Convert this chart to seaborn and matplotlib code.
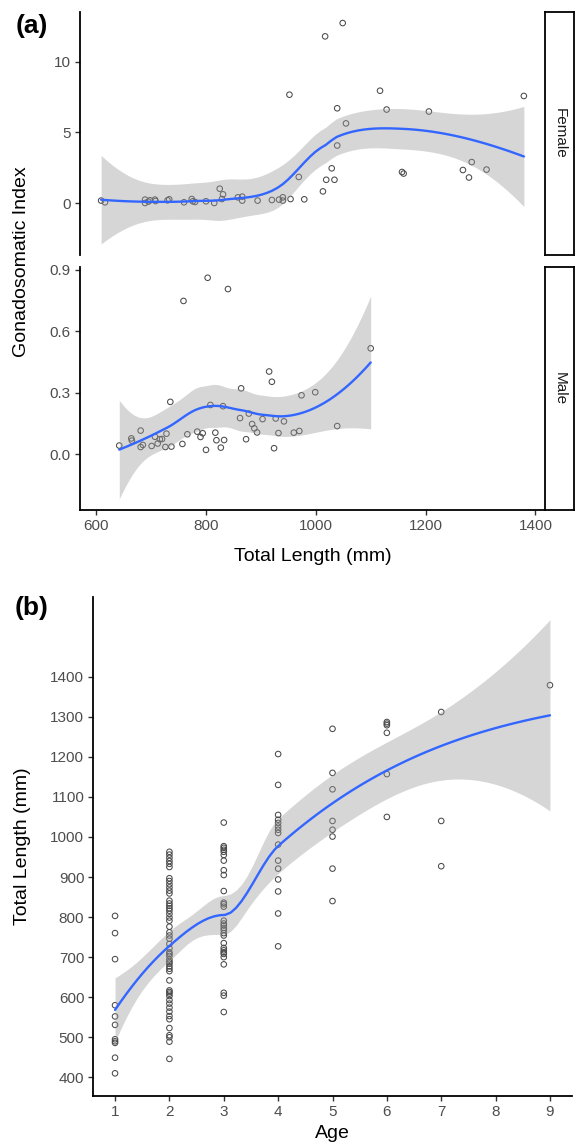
import numpy as np
import pandas as pd
import matplotlib
matplotlib.use("Agg")
import matplotlib.pyplot as plt
import seaborn as sns

# ---------------- data ----------------
female_tl = [609, 616, 689, 689, 695, 698, 707, 708, 730, 733, 760, 774, 776, 780, 800,
             815, 825, 829, 831, 858, 866, 866, 894, 920, 933, 940, 940, 952, 954, 969,
             979, 1013, 1017, 1019, 1029, 1034, 1039, 1039, 1049, 1055, 1117, 1129, 1157,
             1160, 1206, 1268, 1279, 1284, 1311, 1379]
female_gsi = [0.19, 0.07, 0.26, 0.02, 0.12, 0.21, 0.26, 0.16, 0.21, 0.28, 0.07, 0.30, 0.14,
              0.09, 0.14, 0.02, 1.03, 0.30, 0.63, 0.42, 0.47, 0.19, 0.19, 0.23, 0.26, 0.42,
              0.19, 7.67, 0.30, 1.86, 0.28, 0.84, 11.79, 1.66, 2.47, 1.66, 6.71, 4.08, 12.73,
              5.64, 7.95, 6.62, 2.21, 2.10, 6.48, 2.35, 1.82, 2.91, 2.38, 7.58]

male_tl = [642, 664, 665, 681, 681, 685, 701, 707, 712, 716, 720, 726, 728, 735, 737, 757,
           759, 766, 784, 790, 794, 800, 803, 808, 817, 819, 827, 831, 833, 840, 862, 864,
           873, 878, 884, 888, 893, 903, 915, 920, 924, 927, 932, 942, 960, 970, 974, 999,
           1039, 1100]
male_gsi = [0.042, 0.077, 0.066, 0.115, 0.035, 0.045, 0.040, 0.085, 0.052, 0.073, 0.074,
            0.035, 0.100, 0.255, 0.037, 0.050, 0.747, 0.097, 0.110, 0.084, 0.102, 0.021,
            0.860, 0.240, 0.105, 0.068, 0.032, 0.234, 0.069, 0.805, 0.176, 0.321, 0.073,
            0.198, 0.147, 0.126, 0.106, 0.171, 0.403, 0.353, 0.029, 0.174, 0.103, 0.160,
            0.105, 0.113, 0.287, 0.302, 0.137, 0.516]

tl_age1 = [803, 760, 695, 580, 552, 531, 495, 490, 486, 449, 410]
tl_age2 = [963, 956, 948, 940, 933, 925, 897, 890, 882, 874, 866, 859, 841, 834, 828, 822,
           816, 808, 799, 791, 776, 762, 754, 746, 733, 722, 712, 708, 703, 694, 688, 684,
           677, 671, 665, 642, 617, 613, 609, 603, 593, 584, 574, 564, 553, 545, 523, 505,
           500, 489, 446]
tl_age3 = [1036, 977, 973, 968, 963, 955, 941, 917, 905, 865, 836, 832, 826, 791, 784, 779,
           773, 768, 760, 754, 735, 723, 717, 712, 708, 700, 682, 611, 604, 563]
tl_age4 = [1207, 1130, 1055, 1043, 1035, 1026, 1018, 1010, 981, 941, 921, 894, 864, 809, 727]
tl_age5 = [1270, 1160, 1119, 1040, 1018, 1001, 921, 840]
tl_age6 = [1287, 1283, 1279, 1260, 1157, 1050]
tl_age7 = [1312, 1040, 927]
tl_age9 = [1379]
ages = [1, 2, 3, 4, 5, 6, 7, 9]
age_groups = [tl_age1, tl_age2, tl_age3, tl_age4, tl_age5, tl_age6, tl_age7, tl_age9]

df_age = pd.DataFrame({
    "Age": np.concatenate([[a] * len(g) for a, g in zip(ages, age_groups)]).astype(float),
    "TL": np.concatenate([np.asarray(g, float) for g in age_groups]),
})


# ---------------- loess (R-style: span .75, degree 2, kd-tree interpolation) -------------
def tq975(df):
    z = 1.959963985
    g1 = (z ** 3 + z) / 4
    g2 = (5 * z ** 5 + 16 * z ** 3 + 3 * z) / 96
    g3 = (3 * z ** 7 + 19 * z ** 5 + 17 * z ** 3 - 15 * z) / 384
    return z + g1 / df + g2 / df ** 2 + g3 / df ** 3


def loess_smooth(x, y, npts=80, span=0.75, cell=0.2):
    x = np.asarray(x, float)
    y = np.asarray(y, float)
    n = len(x)
    q = int(np.floor(n * span))
    fc = int(np.floor(n * span * cell))
    xs = np.sort(x)
    rng = xs[-1] - xs[0]
    mu = 0.005 * max(rng, 1e-10 * max(abs(xs[0]), abs(xs[-1])) + 1e-30)
    lo_v, hi_v = xs[0] - mu, xs[-1] + mu
    verts = {lo_v, hi_v}

    def rec(l, u, vlo, vhi):
        if u - l + 1 <= fc:
            return
        m = (l + u) // 2
        off = 0
        while True:
            k = m + off
            if k >= u or k < l:
                break
            if xs[k - 1] == xs[k]:
                off = -off
                if off >= 0:
                    off += 1
            else:
                m = k
                break
        t = xs[m - 1]
        if t == vlo or t == vhi:
            return
        verts.add(t)
        rec(l, m, vlo, t)
        rec(m + 1, u, t, vhi)

    rec(1, n, lo_v, hi_v)
    V = np.array(sorted(verts))

    def local_rows(x0):
        d = np.abs(x - x0)
        rho = np.sort(d)[q - 1] * max(1.0, span)
        u = d / rho
        w = np.where(u < 1, (1 - u ** 3) ** 3, 0.0)
        X = np.column_stack([np.ones(n), x - x0, (x - x0) ** 2])
        XtW = X.T * w
        B = np.linalg.pinv(XtW @ X) @ XtW
        return B[0], B[1]

    VL, VS = zip(*[local_rows(v) for v in V])
    VL, VS = np.array(VL), np.array(VS)

    def op_row(x0):
        i = np.searchsorted(V, x0, side="right") - 1
        i = min(max(i, 0), len(V) - 2)
        h = V[i + 1] - V[i]
        t = (x0 - V[i]) / h
        phi0 = (1 - t) ** 2 * (1 + 2 * t)
        phi1 = t ** 2 * (3 - 2 * t)
        psi0 = t * (1 - t) ** 2
        psi1 = -t ** 2 * (1 - t)
        return phi0 * VL[i] + phi1 * VL[i + 1] + h * (psi0 * VS[i] + psi1 * VS[i + 1])

    L = np.array([op_row(xi) for xi in x])
    res = y - L @ y
    IL = np.eye(n) - L
    M = IL.T @ IL
    d1 = np.trace(M)
    d2 = np.trace(M @ M)
    sigma = np.sqrt(np.sum(res ** 2) / d1)
    tq = tq975(d1 ** 2 / d2)
    xe = np.linspace(x.min(), x.max(), npts)
    R = np.array([op_row(v) for v in xe])
    fit = R @ y
    se = sigma * np.sqrt(np.sum(R ** 2, axis=1))
    return xe, fit, fit - tq * se, fit + tq * se


# ---------------- style ----------------
sns.set_theme(style="ticks")
plt.rcParams["font.family"] = ["Liberation Sans", "DejaVu Sans"]

W, H = 576, 1143
fig = plt.figure(figsize=(W / 100, H / 100), dpi=100)


def add_ax(l, t, r, b):
    return fig.add_axes([l / W, 1 - b / H, (r - l) / W, (b - t) / H])


PT_EC = "#4a4a4a"
LINE_C = "#3366FF"
BAND_C = "#999999"
TICK_C = "#4D4D4D"


def style_axis(ax, show_x=True):
    sns.despine(ax=ax, top=True, right=True, bottom=not show_x)
    for s in ["left", "bottom"]:
        ax.spines[s].set_linewidth(1.3)
        ax.spines[s].set_color("black")
    ax.tick_params(axis="both", colors="#333333", labelcolor=TICK_C, labelsize=11,
                   length=3.5, width=1.0, pad=3)
    if not show_x:
        ax.tick_params(axis="x", bottom=False, labelbottom=False)
    ax.set_xlabel("")
    ax.set_ylabel("")
    ax.grid(False)


def draw_panel(ax, x, y):
    sns.scatterplot(x=x, y=y, ax=ax, marker="o", facecolor="none", edgecolor=PT_EC,
                    linewidth=0.75, s=16, zorder=2)
    xe, fit, lo, hi = loess_smooth(x, y)
    ax.fill_between(xe, lo, hi, color=BAND_C, alpha=0.4, linewidth=0, zorder=3)
    sns.lineplot(x=xe, y=fit, ax=ax, color=LINE_C, linewidth=1.7, sort=False,
                 estimator=None, zorder=4)
    ymin = min(np.min(lo), np.min(y))
    ymax = max(np.max(hi), np.max(y))
    pad = 0.05 * (ymax - ymin)
    ax.set_ylim(ymin - pad, ymax + pad)


# ---------------- panel (a) ----------------
axF = add_ax(80, 12, 545, 255)
axM = add_ax(80, 266.7, 545, 510)
draw_panel(axF, female_tl, female_gsi)
draw_panel(axM, male_tl, male_gsi)

all_tl = np.concatenate([female_tl, male_tl])
xpad = 0.05 * (all_tl.max() - all_tl.min())
for ax in (axF, axM):
    ax.set_xlim(all_tl.min() - xpad, all_tl.max() + xpad)
    ax.set_xticks([600, 800, 1000, 1200, 1400])
axF.set_yticks([0, 5, 10])
axM.set_yticks([0.0, 0.3, 0.6, 0.9])
axM.set_yticklabels(["0.0", "0.3", "0.6", "0.9"])
style_axis(axF, show_x=False)
style_axis(axM, show_x=True)

for (t, b, lab) in [(12, 255, "Female"), (266.7, 510, "Male")]:
    st = add_ax(545, t, 574, b)
    st.set_xticks([])
    st.set_yticks([])
    for s in st.spines.values():
        s.set_visible(True)
        s.set_linewidth(1.3)
        s.set_color("black")
    st.set_facecolor("white")
    st.text(0.5, 0.5, lab, rotation=270, ha="center", va="center", fontsize=11,
            color="#1A1A1A", transform=st.transAxes)

fig.text(22 / W, 1 - 262 / H, "Gonadosomatic Index", rotation=90, ha="center",
         va="center", fontsize=14, color="black")
fig.text(312.5 / W, 1 - 556.7 / H, "Total Length (mm)", ha="center", va="center",
         fontsize=14, color="black")
fig.text(32 / W, 1 - 25.5 / H, "(a)", ha="center", va="center", fontsize=19,
         fontweight="bold", color="black")

# ---------------- panel (b) ----------------
axB = add_ax(93.3, 597, 571.7, 1096)
draw_panel(axB, df_age["Age"].values, df_age["TL"].values)
xa = df_age["Age"].values
apad = 0.05 * (xa.max() - xa.min())
axB.set_xlim(xa.min() - apad, xa.max() + apad)
axB.set_xticks(list(range(1, 10)))
axB.set_yticks(list(range(400, 1401, 100)))
style_axis(axB, show_x=True)

fig.text(23 / W, 1 - 846.5 / H, "Total Length (mm)", rotation=90, ha="center",
         va="center", fontsize=14, color="black")
fig.text(332.5 / W, 1 - 1133 / H, "Age", ha="center", va="center", fontsize=14,
         color="black")
fig.text(32 / W, 1 - 608 / H, "(b)", ha="center", va="center", fontsize=19,
         fontweight="bold", color="black")

fig.savefig("out.png", dpi=100, facecolor="white")
